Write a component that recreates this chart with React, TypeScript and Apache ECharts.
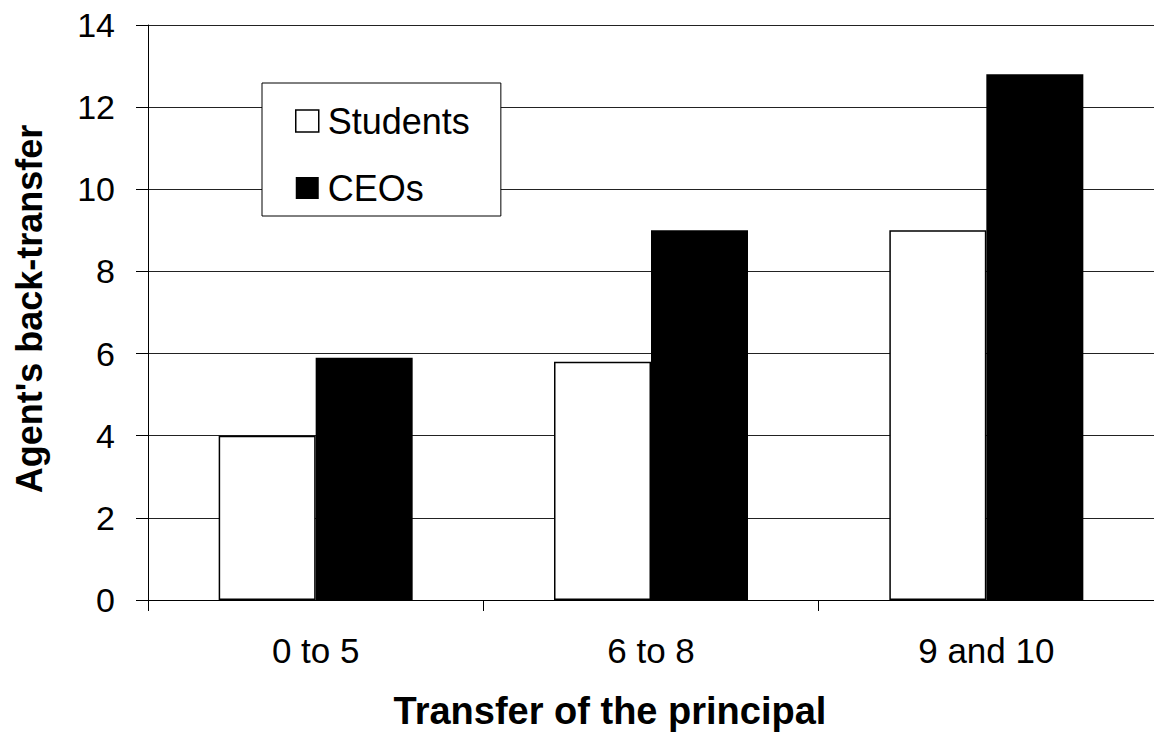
import React, { useEffect, useRef } from "react";
import * as echarts from "echarts";

const categories = ["0 to 5", "6 to 8", "9 and 10"];
const students = [4.0, 5.8, 9.0];
const ceos = [5.9, 9.0, 12.8];
const seriesNames = ["Students", "CEOs"];
const xTitle = "Transfer of the principal";
const yTitle = "Agent's back-transfer";

const FONT = "'Liberation Sans', Arial, sans-serif";

export default function App() {
  const ref = useRef<HTMLDivElement>(null);
  useEffect(() => {
    if (!ref.current) return;
    const chart = echarts.init(ref.current, undefined, { renderer: "svg" });
    chart.setOption({
      animation: false,
      backgroundColor: "#ffffff",
      textStyle: { fontFamily: FONT },
      grid: { left: 148, top: 25, width: 1006, height: 575, containLabel: false },
      legend: {
        orient: "vertical",
        left: 262,
        top: 83,
        padding: [20, 31, 10, 33],
        itemWidth: 23,
        itemHeight: 22,
        itemGap: 31,
        borderColor: "#000",
        borderWidth: 1,
        backgroundColor: "#fff",
        textStyle: { fontSize: 36, color: "#000", fontFamily: FONT, padding: [6, 0, 0, 4] },
        data: [
          { name: seriesNames[0], icon: "rect", itemStyle: { color: "#fff", borderColor: "#000", borderWidth: 1.5 } },
          { name: seriesNames[1], icon: "rect", itemStyle: { color: "#000", borderColor: "#000", borderWidth: 0 } },
        ],
      },
      xAxis: {
        type: "category",
        data: categories,
        boundaryGap: true,
        axisLine: { lineStyle: { color: "#000", width: 1 } },
        axisTick: { show: true, length: 11, alignWithLabel: false, interval: 0, lineStyle: { color: "#000" } },
        axisLabel: { fontSize: 35, color: "#000", margin: 33, fontFamily: FONT },
        splitLine: { show: false },
      },
      yAxis: {
        type: "value",
        min: 0,
        max: 14,
        interval: 2,
        axisLine: { show: true, lineStyle: { color: "#000", width: 1 } },
        axisTick: { show: true, length: 12, lineStyle: { color: "#000" } },
        axisLabel: { fontSize: 34, color: "#000", margin: 33, fontFamily: FONT },
        splitLine: { show: true, lineStyle: { color: "#222", width: 1 } },
      },
      graphic: [
        {
          type: "text",
          x: 610,
          y: 711,
          style: {
            text: xTitle,
            font: `bold 38px ${FONT}`,
            fill: "#000",
            align: "center",
            verticalAlign: "middle",
          },
        },
        {
          type: "text",
          x: 29,
          y: 309,
          rotation: Math.PI / 2,
          style: {
            text: yTitle,
            font: `bold 36px ${FONT}`,
            fill: "#000",
            align: "center",
            verticalAlign: "middle",
          },
        },
      ],
      series: [
        {
          name: seriesNames[0],
          type: "bar",
          data: students,
          barWidth: 97,
          barGap: "0%",
          itemStyle: { color: "#fff", borderColor: "#000", borderWidth: 1.5 },
        },
        {
          name: seriesNames[1],
          type: "bar",
          data: ceos,
          barWidth: 97,
          barGap: "0%",
          itemStyle: { color: "#000", borderColor: "#000", borderWidth: 0 },
        },
      ],
    });
    return () => chart.dispose();
  }, []);
  return (
    <div
      ref={ref}
      style={{ position: "fixed", left: 0, top: 0, width: 1154, height: 733, background: "#fff" }}
    />
  );
}
